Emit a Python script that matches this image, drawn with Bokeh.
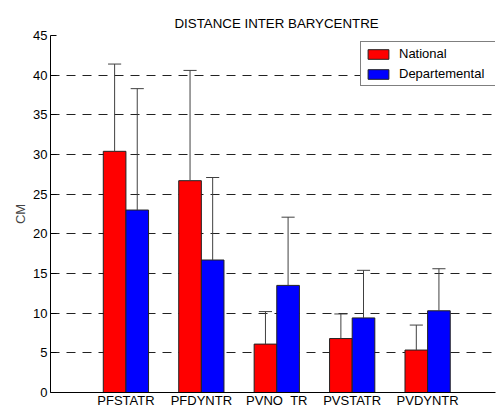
from bokeh.plotting import figure
from bokeh.models import Range1d, FixedTicker, Legend, LegendItem, ColumnDataSource
from bokeh.embed import file_html
from bokeh.resources import INLINE

categories = ["PFSTATR", "PFDYNTR", "PVNO\u00a0\u00a0TR", "PVSTATR", "PVDYNTR"]
national = [30.4, 26.7, 6.1, 6.8, 5.35]
national_err = [11.0, 13.9, 4.1, 3.1, 3.15]
departemental = [23.0, 16.7, 13.5, 9.4, 10.3]
departemental_err = [15.3, 10.4, 8.6, 6.0, 5.3]
y_ticks = [0, 5, 10, 15, 20, 25, 30, 35, 40, 45]

FONT = "Liberation Sans"
FS = "13px"
pos = list(range(1, len(categories) + 1))
bw = 0.3

p = figure(width=496, height=410, output_backend="svg", toolbar_location=None,
           x_range=Range1d(0, 5.9), y_range=Range1d(0, 45),
           min_border_left=50, min_border_right=1, min_border_top=35, min_border_bottom=16,
           title="DISTANCE INTER BARYCENTRE")
p.title.align = "left"
p.title.offset = 124
p.title.text_font = FONT
p.title.text_font_size = "13.3px"
p.title.text_font_style = "normal"
p.title.text_color = "black"
p.outline_line_color = None

p.xgrid.grid_line_color = None
p.ygrid.ticker = FixedTicker(ticks=y_ticks)
p.ygrid.grid_line_color = "#222222"
p.ygrid.grid_line_dash = "9 7"
p.ygrid.grid_line_width = 1

p.xaxis.ticker = FixedTicker(ticks=pos)
p.xaxis.major_label_overrides = {i: c for i, c in zip(pos, categories)}
p.yaxis.ticker = FixedTicker(ticks=y_ticks)
for ax in (p.xaxis[0], p.yaxis[0]):
    ax.axis_line_color = "black"
    ax.major_label_text_font = FONT
    ax.major_label_text_font_size = FS
    ax.major_label_text_color = "black"
    ax.minor_tick_line_color = None
p.xaxis.major_tick_in = 0
p.xaxis.major_tick_out = 0
p.xaxis.major_label_standoff = 0
p.yaxis.major_tick_in = 6
p.yaxis.major_tick_out = 0
p.yaxis.major_tick_line_color = "black"
p.yaxis.major_label_standoff = 3
p.yaxis.axis_label = "CM"
p.yaxis.axis_label_text_font = FONT
p.yaxis.axis_label_text_font_size = FS
p.yaxis.axis_label_text_font_style = "normal"
p.yaxis.axis_label_standoff = 2

xn = [x - bw / 2 for x in pos]
xd = [x + bw / 2 for x in pos]
src_n = ColumnDataSource(dict(x=xn, top=national, up=[v + e for v, e in zip(national, national_err)],
                              l=[x - 0.087 for x in xn], r=[x + 0.087 for x in xn]))
src_d = ColumnDataSource(dict(x=xd, top=departemental, up=[v + e for v, e in zip(departemental, departemental_err)],
                              l=[x - 0.087 for x in xd], r=[x + 0.087 for x in xd]))

rn = p.vbar(x="x", top="top", width=bw, source=src_n, fill_color="#FF0000", line_color="#222222")
rd = p.vbar(x="x", top="top", width=bw, source=src_d, fill_color="#0000FF", line_color="#222222")
for s in (src_n, src_d):
    p.segment(x0="x", y0="top", x1="x", y1="up", source=s, line_color="#404040", line_width=1)
    p.segment(x0="l", y0="up", x1="r", y1="up", source=s, line_color="#404040", line_width=1)

legend = Legend(items=[LegendItem(label="National", renderers=[rn]),
                       LegendItem(label="Departemental", renderers=[rd])],
                location=(310, 306))
legend.border_line_color = "black"
legend.border_line_width = 1
legend.background_fill_alpha = 1
legend.label_text_font = FONT
legend.label_text_font_size = FS
legend.label_text_color = "black"
legend.glyph_width = 26
legend.glyph_height = 12
legend.label_height = 12
legend.label_width = 115
legend.spacing = 5
legend.padding = 4
legend.margin = 0
legend.label_standoff = 8
p.add_layout(legend)

open("out.html", "w").write(file_html(p, INLINE))
